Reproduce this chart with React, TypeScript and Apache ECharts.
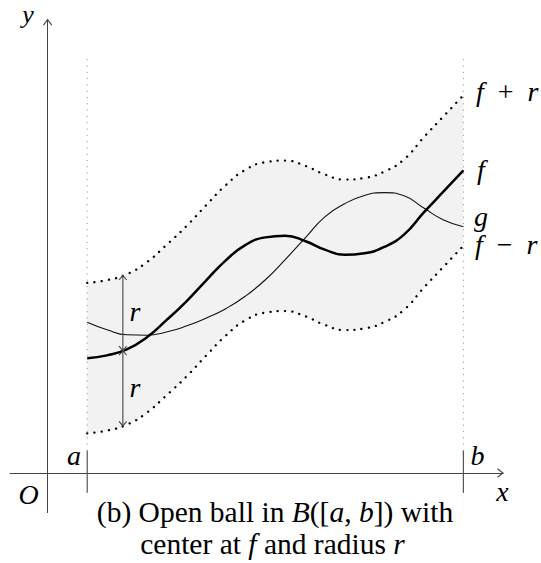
import React, { useEffect, useRef } from "react";
import * as echarts from "echarts";

// ---- data (in the diagram's own units) ----
const xPoints = [1, 1.5, 2, 2.5, 3, 3.5, 4, 4.5, 5, 5.5, 6, 6.5, 7, 7.5, 8, 8.5, 9, 9.5, 10, 10.5];
const fValues = [2.9, 2.97, 3.12, 3.42, 3.86, 4.33, 4.86, 5.37, 5.76, 5.95, 5.99, 5.86, 5.64, 5.51, 5.55, 5.71, 6.02, 6.58, 7.11, 7.64];
const gValues = [3.81, 3.62, 3.49, 3.48, 3.56, 3.71, 3.91, 4.15, 4.47, 4.88, 5.39, 5.93, 6.47, 6.8, 7.01, 7.08, 7.0, 6.69, 6.39, 6.22];
const radius = 1.9;
const aValue = 1;
const bValue = 10.5;
const arrowX = 1.9;
const guideTop = 10.5;
const guideBottom = 0.56;
const tickBottom = -0.5;
const xRange = [-0.95, 11.5];
const yRange = [-1.0, 11.45];

const SERIF = "Liberation Serif";
const SMOOTH = 0.5;

function interp(xs: number[], ys: number[], x: number): number {
  for (let i = 0; i < xs.length - 1; i++) {
    if (x >= xs[i] && x <= xs[i + 1]) {
      const t = (x - xs[i]) / (xs[i + 1] - xs[i]);
      return ys[i] + t * (ys[i + 1] - ys[i]);
    }
  }
  return ys[ys.length - 1];
}

export default function App() {
  const ref = useRef<HTMLDivElement>(null);

  useEffect(() => {
    if (!ref.current) return;
    const chart = echarts.init(ref.current, undefined, { renderer: "svg" });

    const fData = xPoints.map((x, i) => [x, fValues[i]]);
    const gData = xPoints.map((x, i) => [x, gValues[i]]);
    const upper = xPoints.map((x, i) => [x, fValues[i] + radius]);
    const lower = xPoints.map((x, i) => [x, fValues[i] - radius]);
    const fAtArrow = interp(xPoints, fValues, arrowX);

    const hidden = { show: false };
    const axisBase = {
      type: "value" as const,
      z: 5,
      axisTick: hidden,
      axisLabel: hidden,
      splitLine: hidden,
      axisLine: { show: true, onZero: true, lineStyle: { color: "#444", width: 1 } },
    };

    const plain = (data: number[][], color: string, width: number, type: any = "solid", extra: any = {}) => ({
      type: "line",
      data,
      symbol: "none",
      silent: true,
      lineStyle: { color, width, type, ...extra },
    });

    chart.setOption({
      animation: false,
      backgroundColor: "#fff",
      grid: { left: 10, top: 19.6, width: 493, height: 493, containLabel: false },
      xAxis: { ...axisBase, min: xRange[0], max: xRange[1] },
      yAxis: { ...axisBase, min: yRange[0], max: yRange[1] },
      series: [
        // shaded band: grey under f+r, then white under f-r
        {
          type: "line",
          data: upper,
          symbol: "none",
          smooth: SMOOTH,
          silent: true,
          lineStyle: { opacity: 0 },
          areaStyle: { color: "#f2f2f2", opacity: 1, origin: "start" },
          z: 1,
        },
        {
          type: "line",
          data: lower,
          symbol: "none",
          smooth: SMOOTH,
          silent: true,
          lineStyle: { opacity: 0 },
          areaStyle: { color: "#ffffff", opacity: 1, origin: "start" },
          z: 1.5,
        },
        { ...plain([[aValue, guideBottom], [aValue, guideTop]], "#8a8a8a", 1, [1, 5.3]), z: 2 },
        { ...plain([[bValue, guideBottom], [bValue, guideTop]], "#8a8a8a", 1, [1, 5.3]), z: 2 },
        { ...plain([[aValue, tickBottom], [aValue, guideBottom]], "#555", 1.2), z: 6 },
        { ...plain([[bValue, tickBottom], [bValue, guideBottom]], "#555", 1.2), z: 6 },
        { ...plain(upper, "#000", 2.3, [0.1, 7.2], { cap: "round" }), smooth: SMOOTH, z: 4 },
        { ...plain(lower, "#000", 2.3, [0.1, 7.2], { cap: "round" }), smooth: SMOOTH, z: 4 },
        { ...plain(gData, "#111", 1.1), smooth: SMOOTH, z: 5 },
        { ...plain(fData, "#000", 2.5), smooth: SMOOTH, z: 6 },
        { ...plain([[arrowX, fAtArrow - radius], [arrowX, fAtArrow + radius]], "#444", 1.1), z: 7 },
      ],
    });

    const px = (x: number, y: number) => chart.convertToPixel({ gridIndex: 0 }, [x, y]) as number[];
    const chev = (tip: number[], dir: string, w: number, h: number) => {
      const [tx, ty] = tip;
      let pts: number[][];
      if (dir === "up") pts = [[tx - w, ty + h], [tx, ty], [tx + w, ty + h]];
      else if (dir === "down") pts = [[tx - w, ty - h], [tx, ty], [tx + w, ty - h]];
      else pts = [[tx - h, ty - w], [tx, ty], [tx - h, ty + w]];
      return {
        type: "polyline",
        shape: { points: pts },
        style: { stroke: "#444", lineWidth: 1.1, fill: null },
        z: 100,
        silent: true,
      };
    };

    const label = (text: string, x: number, y: number, align: string = "left", size: number = 28) => ({
      type: "text",
      x,
      y,
      z: 100,
      silent: true,
      style: {
        legacy: false,
        text,
        fontFamily: SERIF,
        fontSize: size,
        lineHeight: 22,
        fill: "#000",
        align,
        verticalAlign: "middle",
        rich: {
          i: { fontStyle: "italic", fontFamily: SERIF, fontSize: size, lineHeight: 22, fill: "#000" },
        },
      },
    });

    const top = px(arrowX, fAtArrow + radius);
    const mid = px(arrowX, fAtArrow);
    const bot = px(arrowX, fAtArrow - radius);
    const xTip = px(xRange[1], 0);
    const yTip = px(0, yRange[1]);

    chart.setOption({
      graphic: [
        chev(top, "up", 3.8, 4.6),
        chev(mid, "down", 3.8, 4.6),
        chev(mid, "up", 3.8, 4.6),
        chev(bot, "down", 3.8, 4.6),
        chev(xTip, "right", 4.2, 5.5),
        chev(yTip, "up", 4.2, 5.5),
        label("{i|y}", 28, 14.5, "center", 26),
        label("{i|x}", 502.5, 491.5, "center"),
        label("{i|O}", 28.5, 494.5, "center"),
        label("{i|a}", 74, 455, "center"),
        label("{i|b}", 477.5, 455.5, "center"),
        label("{i|r}", 135, 311, "center"),
        label("{i|r}", 135, 387.5, "center"),
        label("{i|f}\u2002+\u2002{i|r}", 476, 91),
        label("{i|f}", 477, 169),
        label("{i|g}", 474, 216),
        label("{i|f}\u2002\u2212\u2002{i|r}", 475, 244),
        label("(b) Open ball in {i|B}([{i|a}, {i|b}]) with", 275, 511.5, "center", 29.5),
        label("center at {i|f} and radius {i|r}", 272.5, 544, "center", 29.5),
      ],
    });

    return () => chart.dispose();
  }, []);

  return (
    <div
      ref={ref}
      style={{ position: "fixed", left: 0, top: 0, width: 541, height: 563, background: "#fff" }}
    />
  );
}
